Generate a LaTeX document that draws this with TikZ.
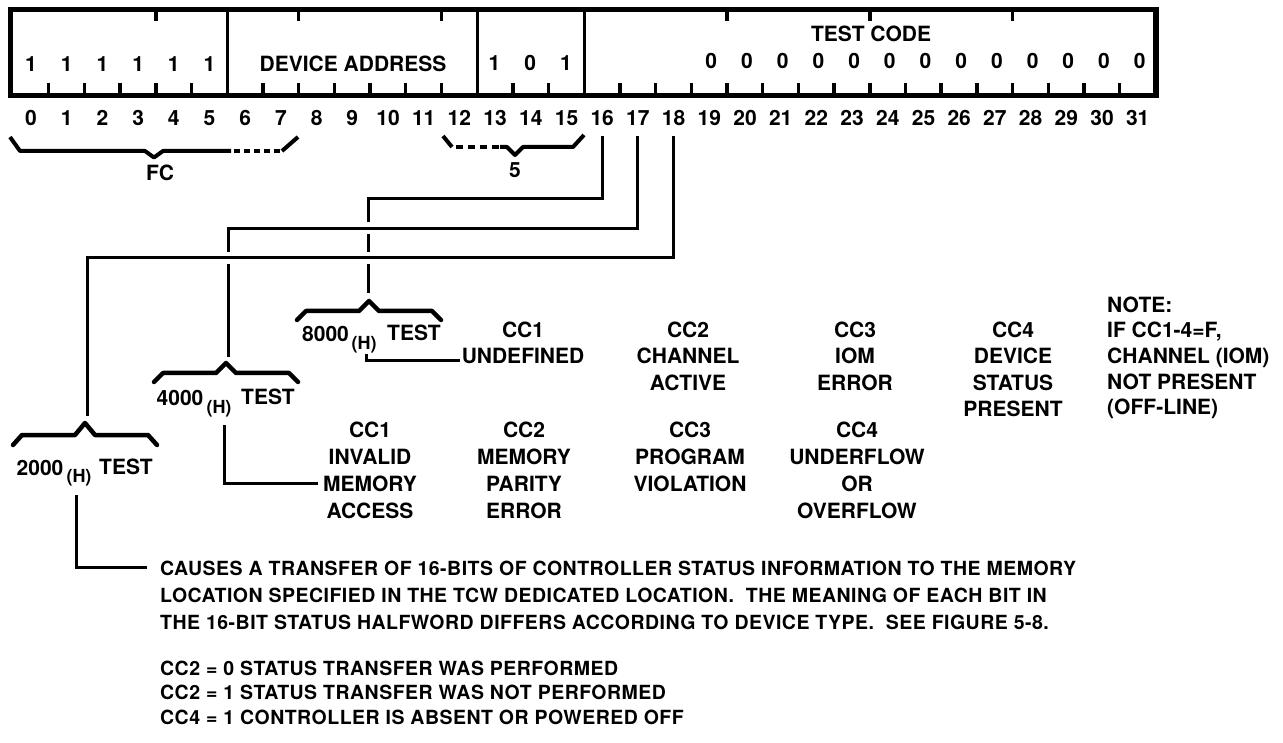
\documentclass[tikz,border=0pt]{standalone}
\usepackage{fontspec}
\setmainfont{TeX Gyre Heros}
\newfontfamily\lblfont{TeX Gyre Heros}
\newfontfamily\parfont[LetterSpace=2.5]{TeX Gyre Heros}
\begin{document}
\begin{tikzpicture}[x=1pt,y=-1pt,
  lbl/.style={inner sep=0pt, font=\lblfont\bfseries\fontsize{21}{25}\selectfont, anchor=base},
  sublbl/.style={inner sep=0pt, font=\lblfont\bfseries\fontsize{18}{21}\selectfont, anchor=base},
  partxt/.style={inner sep=0pt, font=\parfont\bfseries\fontsize{19.5}{23}\selectfont, anchor=base west},
  notetxt/.style={inner sep=0pt, font=\lblfont\bfseries\fontsize{21}{25}\selectfont, anchor=base west},
  conn/.style={line width=3pt},
  gapconn/.style={line width=3pt, preaction={draw=white, line width=12pt}},
  ubrace/.style={line width=4.5pt, line join=round, line cap=round},
  dbrace/.style={line width=4pt, line join=round},
  tick/.style={line width=3.5pt}]
\useasboundingbox (0,0) rectangle (1283,743);

% ---- instruction word box ----
\draw[line width=5.5pt] (10.5,9.5) rectangle (1156,95.5);
\foreach \k in {6,13,16} \draw[line width=3pt] ({13+35.7*\k},9.5) -- ({13+35.7*\k},95.5);
\foreach \k in {1,2,3,4,5,7,8,9,10,11,12,14,15,17,18,19,20,21,22,23,24,25,26,27,28,29,30,31}
  \draw[tick] ({13+35.7*\k},83) -- ({13+35.7*\k},95);
\foreach \k in {4,8,12,20,24,28}
  \draw[tick] ({13+35.7*\k},9.5) -- ({13+35.7*\k},21);

\foreach \k in {0,...,5} \node[lbl] (one\k) at ({31+35.7*\k},71.5) {1};
\node[lbl] (devaddr) at (353,72) {DEVICE ADDRESS};
\node[lbl] (f13) at (494.5,71) {1};
\node[lbl] (f14) at (530.2,71) {0};
\node[lbl] (f15) at (566,71) {1};
\node[lbl] (testcode) at (871,41.5) {TEST CODE};
\foreach \k in {19,...,31} \node[lbl] (z\k) at ({33+35.7*\k},68.5) {0};

% bit numbers
\foreach \k in {0,...,31} \node[lbl] (n\k) at ({31+35.7*\k},125.5) {\k};

% FC brace
\draw[dbrace] (10,137) -- (20,151) -- (145,151) -- (154,157.5) -- (163,151) -- (231,151);
\draw[dbrace, dash pattern=on 6pt off 4pt] (234,151) -- (282,151);
\draw[dbrace] (282,151) -- (298,137);
\node[lbl] (fc) at (160,180.5) {FC};

% 5 brace
\draw[dbrace] (443,136) -- (452,147);
\draw[dbrace, dash pattern=on 7pt off 5pt] (456,147) -- (500,147);
\draw[dbrace] (500,147) -- (507,147) -- (515,155) -- (523,147) -- (573,147) -- (584,135);
\node[lbl] (five) at (515,177.5) {5};

% ---- test braces ----
\draw[ubrace] (369,311) ++(-72,9) -- ++(9,-9) -- ++(53,0) -- ++(10,-10) -- ++(10,10) -- ++(53,0) -- ++(9,9);
\draw[ubrace] (226,373) ++(-72,9) -- ++(9,-9) -- ++(53,0) -- ++(10,-10) -- ++(10,10) -- ++(53,0) -- ++(9,9);
\draw[ubrace] (85,435) ++(-72,10) -- ++(9,-10) -- ++(53,0) -- ++(10,-12) -- ++(10,12) -- ++(53,0) -- ++(9,10);

\coordinate (k16) at (368,199);   \coordinate (t8) at (368,293);
\coordinate (k17) at (228,228.5); \coordinate (t4) at (228,357);
\coordinate (k18) at (87,258);    \coordinate (t2) at (87,416);

\draw[conn] ([yshift=-10pt]n16.south) |- (k16) -- (t8);
\draw[gapconn] ([yshift=-10pt]n17.south) |- (k17) -- (t4);
\draw[gapconn] ([yshift=-10pt]n18.south) |- (k18) -- (t2);

% test labels
\node[lbl] (v8) at (325.5,341.5) {8000};
\node[sublbl] (h8) at (364,349.5) {(H)};
\node[lbl] (x8) at (414,340.5) {TEST};
\node[lbl] (v4) at (180,405.5) {4000};
\node[sublbl] (h4) at (219,413.5) {(H)};
\node[lbl] (x4) at (268,404.5) {TEST};
\node[lbl] (v2) at (40,475) {2000};
\node[sublbl] (h2) at (79,482.5) {(H)};
\node[lbl] (x2) at (126,474.5) {TEST};

% condition code columns, 8000 test
\foreach \t [count=\i] in {CC1,UNDEFINED} \node[lbl] (r1a-\i) at (523,{311+26.5*\i}) {\t};
\foreach \t [count=\i] in {CC2,CHANNEL,ACTIVE} \node[lbl] (r1b-\i) at (688,{311+26.5*\i}) {\t};
\foreach \t [count=\i] in {CC3,IOM,ERROR} \node[lbl] (r1c-\i) at (855,{311+26.5*\i}) {\t};
\foreach \t [count=\i] in {CC4,DEVICE,STATUS,PRESENT} \node[lbl] (r1d-\i) at (1013,{311+26.5*\i}) {\t};
\foreach \t [count=\i] in {NOTE:,{IF CC1-4=F,},CHANNEL (IOM),NOT PRESENT,(OFF-LINE)}
  \node[notetxt] (note-\i) at (1107,{287+25.5*\i}) {\t};

% condition code columns, 4000 test
\foreach \t [count=\i] in {CC1,INVALID,MEMORY,ACCESS} \node[lbl] (r2a-\i) at (370,{410.5+27*\i}) {\t};
\foreach \t [count=\i] in {CC2,MEMORY,PARITY,ERROR} \node[lbl] (r2b-\i) at (524,{410.5+27*\i}) {\t};
\foreach \t [count=\i] in {CC3,PROGRAM,VIOLATION} \node[lbl] (r2c-\i) at (690,{410.5+27*\i}) {\t};
\foreach \t [count=\i] in {CC4,UNDERFLOW,OR,OVERFLOW} \node[lbl] (r2d-\i) at (857,{410.5+27*\i}) {\t};

% 2000 test description
\node[partxt] (p1) at (160,575) {CAUSES A TRANSFER OF 16-BITS OF CONTROLLER STATUS INFORMATION TO THE MEMORY};
\node[partxt] (p2) at (160,602) {LOCATION SPECIFIED IN THE TCW DEDICATED LOCATION.\ \ THE MEANING OF EACH BIT IN};
\node[partxt] (p3) at (160,629) {THE 16-BIT STATUS HALFWORD DIFFERS ACCORDING TO DEVICE TYPE.\ \ SEE FIGURE 5-8.};
\node[partxt] (c1) at (160,675) {CC2 = 0 STATUS TRANSFER WAS PERFORMED};
\node[partxt] (c2) at (160,699) {CC2 = 1 STATUS TRANSFER WAS NOT PERFORMED};
\node[partxt] (c3) at (160,724) {CC4 = 1 CONTROLLER IS ABSENT OR POWERED OFF};

% connectors from (H) to the condition code descriptions
\draw[conn] ([xshift=2pt,yshift=-1pt]h8.south) |- ([xshift=-2pt,yshift=-4pt]r1a-2.west);
\draw[conn] ([xshift=5pt,yshift=-8pt]h4.south) |- ([xshift=-5pt]r2a-3.west);
\draw[conn] ([xshift=-3pt,yshift=-9pt]h2.south) |- ([xshift=-13pt]p1.west);
\end{tikzpicture}
\end{document}
